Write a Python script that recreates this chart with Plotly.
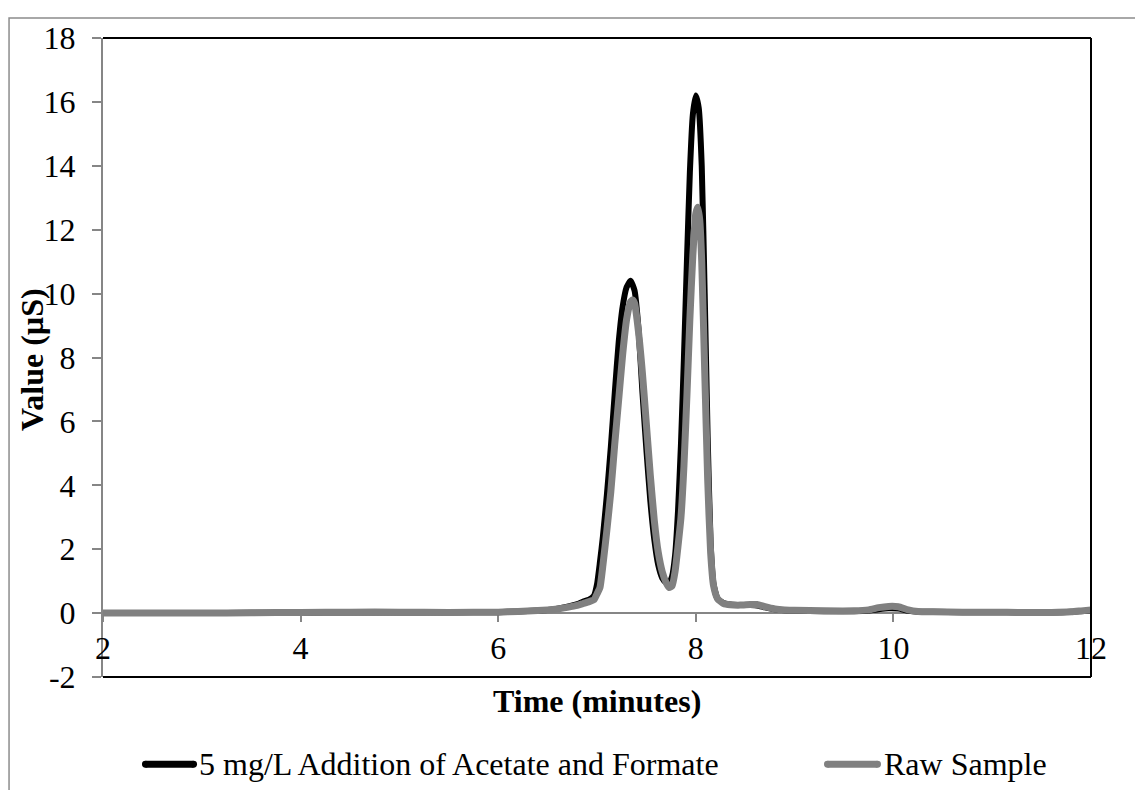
import plotly.graph_objects as go

# ---- data ----
time_std = [2.0, 2.5, 3.0, 3.5, 4.0, 4.5, 5.0, 5.5, 6.0, 6.2, 6.4, 6.5, 6.6, 6.7, 6.8, 6.86, 6.92, 6.97,
            7.0, 7.03, 7.06, 7.1, 7.14, 7.18, 7.22, 7.26, 7.3, 7.34, 7.38, 7.42, 7.46, 7.5, 7.54, 7.58,
            7.62, 7.66, 7.7, 7.73, 7.76, 7.79, 7.82, 7.85, 7.88, 7.91, 7.94, 7.97, 8.0, 8.03, 8.06,
            8.09, 8.12, 8.15, 8.18, 8.22, 8.28, 8.35, 8.45, 8.55, 8.62, 8.7, 8.8, 8.9, 9.0, 9.3, 9.6,
            9.75, 9.85, 9.95, 10.05, 10.15, 10.25, 10.4, 10.7, 11.0, 11.3, 11.6, 11.8, 11.9, 12.0]
value_std = [0.0, 0.0, 0.0, 0.01, 0.01, 0.02, 0.02, 0.02, 0.03, 0.05, 0.08, 0.1, 0.14, 0.2, 0.28, 0.36, 0.42, 0.55,
             0.9, 1.6, 2.4, 3.7, 5.2, 6.9, 8.5, 9.6, 10.2, 10.4, 10.1, 8.9, 6.9, 5.1, 3.5, 2.3,
             1.5, 1.1, 0.95, 0.93, 1.15, 1.8, 3.2, 5.3, 8.0, 11.0, 13.8, 15.6, 16.2, 15.8, 14.0,
             10.0, 5.5, 2.2, 0.9, 0.45, 0.32, 0.27, 0.25, 0.25, 0.24, 0.18, 0.12, 0.09, 0.08, 0.06, 0.06,
             0.08, 0.12, 0.15, 0.14, 0.07, 0.04, 0.04, 0.03, 0.03, 0.02, 0.02, 0.04, 0.06, 0.08]

time_raw = [2.0, 2.5, 3.0, 3.5, 4.0, 4.5, 5.0, 5.5, 6.0, 6.2, 6.4, 6.5, 6.6, 6.7, 6.8, 6.86, 6.92, 6.97,
            7.0, 7.03, 7.06, 7.1, 7.14, 7.18, 7.22, 7.26, 7.3, 7.34, 7.36, 7.38, 7.42, 7.46, 7.5, 7.54,
            7.58, 7.62, 7.66, 7.7, 7.73, 7.76, 7.79, 7.82, 7.85, 7.88, 7.91, 7.94, 7.97, 8.0, 8.02,
            8.04, 8.06, 8.09, 8.12, 8.15, 8.18, 8.22, 8.28, 8.35, 8.45, 8.55, 8.62, 8.7, 8.8, 8.9, 9.0,
            9.3, 9.6, 9.75, 9.85, 9.95, 10.05, 10.15, 10.25, 10.4, 10.7, 11.0, 11.3, 11.6, 11.8, 11.9, 12.0]
value_raw = [0.0, 0.0, 0.0, 0.01, 0.02, 0.03, 0.03, 0.02, 0.03, 0.05, 0.08, 0.1, 0.13, 0.18, 0.24, 0.3, 0.36, 0.42,
             0.6, 0.8, 1.5, 2.6, 3.8, 5.3, 6.7, 8.1, 9.2, 9.75, 9.8, 9.7, 8.8, 7.5, 5.9, 4.3,
             2.9, 1.9, 1.3, 0.95, 0.8, 0.85, 1.3, 2.1, 3.0, 4.6, 6.8, 9.2, 11.2, 12.5, 12.7,
             12.3, 11.0, 7.6, 4.2, 1.9, 0.85, 0.45, 0.3, 0.26, 0.25, 0.27, 0.27, 0.2, 0.13, 0.1, 0.09,
             0.07, 0.07, 0.1, 0.17, 0.21, 0.2, 0.1, 0.05, 0.04, 0.03, 0.03, 0.02, 0.02, 0.04, 0.07, 0.1]

series_names = ["5 mg/L Addition of Acetate and Formate", "Raw Sample"]
series_colors = ["black", "#808080"]
x_ticks = [2, 4, 6, 8, 10, 12]
y_ticks = [-2, 0, 2, 4, 6, 8, 10, 12, 14, 16, 18]
y_tick_text = ["-2", "0", "2", "4", "6", "8", "10", "12", "14", "16", "18"]

FONT = "Liberation Serif, Times New Roman, serif"
AXIS_GREY = "#868686"

fig = go.Figure()
fig.add_trace(go.Scatter(x=time_std, y=value_std, mode="lines", name=series_names[0],
                         line=dict(color=series_colors[0], width=6, shape="spline", smoothing=0.5)))
fig.add_trace(go.Scatter(x=time_raw, y=value_raw, mode="lines", name=series_names[1],
                         line=dict(color=series_colors[1], width=7, shape="spline", smoothing=0.5)))

# page body has an 8px margin, so the margins are trimmed by 8 on the left/top
fig.update_layout(
    width=1143, height=790,
    margin=dict(l=95, r=60, t=24, b=121),
    plot_bgcolor="white", paper_bgcolor="white",
    showlegend=False,
    font=dict(family=FONT, size=32, color="black"),
)

# x axis crosses the y axis at 0, like the Excel original
fig.update_xaxes(range=[2, 12], tickvals=x_ticks, ticks="outside", ticklen=8, tickwidth=2,
                 tickcolor=AXIS_GREY, showline=True, linecolor=AXIS_GREY, linewidth=2,
                 anchor="free", position=0.1, showgrid=False, zeroline=False,
                 layer="below traces", ticklabelstandoff=-2)
fig.update_yaxes(range=[-2, 18], tickvals=y_ticks, ticktext=y_tick_text, ticks="outside",
                 ticklen=9, tickwidth=2, tickcolor=AXIS_GREY, showline=True, linecolor=AXIS_GREY,
                 linewidth=2, showgrid=False, zeroline=False, layer="below traces",
                 ticklabelstandoff=10)

# frame: black on top, right and bottom; outer grey chart border
shapes = [
    dict(type="line", xref="paper", yref="paper", x0=0, x1=1, y0=1, y1=1, line=dict(color="black", width=2)),
    dict(type="line", xref="paper", yref="paper", x0=1, x1=1, y0=0, y1=1, line=dict(color="black", width=2)),
    dict(type="line", xref="paper", yref="paper", x0=0, x1=1, y0=0, y1=0, line=dict(color="black", width=2)),
    dict(type="rect", xref="paper", yref="paper", x0=-0.0951, x1=1.0516, y0=-0.2, y1=1.0314,
         line=dict(color="#8c8c8c", width=1.5), layer="below"),
]

# hand-made legend (long line samples with round ends, like the original)
leg_y = -0.1364
leg_lines = [(0.0430, 0.0916), (0.7333, 0.7839)]
rx, ry = 3.5 / 988, 3.5 / 645
for (a, b), col in zip(leg_lines, series_colors):
    shapes.append(dict(type="line", xref="paper", yref="paper", x0=a, x1=b, y0=leg_y, y1=leg_y,
                       line=dict(color=col, width=7)))
    for cx in (a, b):
        shapes.append(dict(type="circle", xref="paper", yref="paper", x0=cx - rx, x1=cx + rx,
                           y0=leg_y - ry, y1=leg_y + ry, fillcolor=col, line=dict(width=0)))
fig.update_layout(shapes=shapes)

annotations = [
    dict(text="<b>Time (minutes)</b>", xref="paper", yref="paper", x=0.5, y=-0.0372,
         xanchor="center", yanchor="middle", showarrow=False, font=dict(size=32)),
    dict(text="<b>Value (µS)</b>", xref="paper", yref="paper", x=-0.0719, y=0.4977,
         xanchor="center", yanchor="middle", textangle=-90, showarrow=False, font=dict(size=32)),
    dict(text=series_names[0], xref="paper", yref="paper", x=0.0951, y=leg_y,
         xanchor="left", yanchor="middle", showarrow=False, font=dict(size=32)),
    dict(text=series_names[1], xref="paper", yref="paper", x=0.7885, y=leg_y,
         xanchor="left", yanchor="middle", showarrow=False, font=dict(size=32)),
]
fig.update_layout(annotations=annotations)

fig.write_html("out.html")
